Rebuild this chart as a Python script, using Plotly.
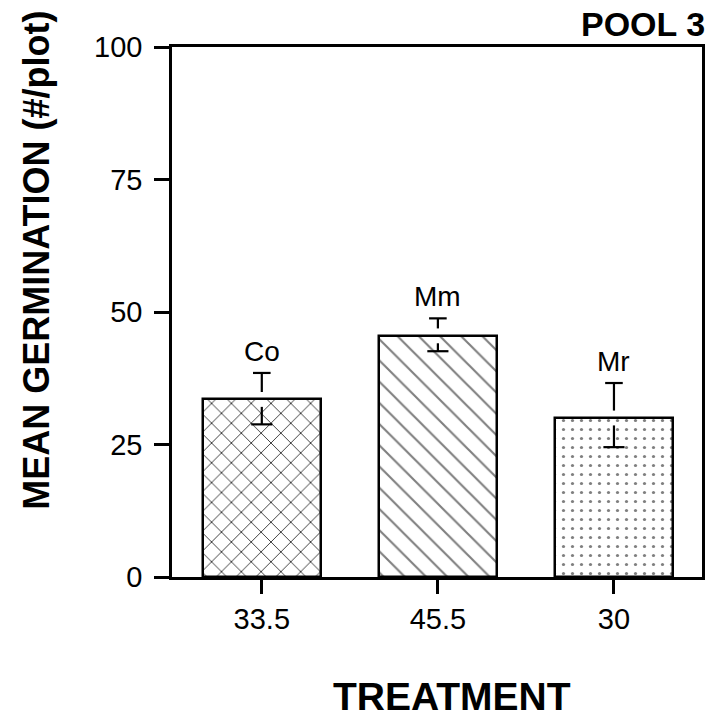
import plotly.graph_objects as go

# ---- data ----
treatments = ["Co", "Mm", "Mr"]
tick_labels = ["33.5", "45.5", "30"]
means = [33.5, 45.5, 30.0]
err_upper = [38.5, 48.8, 36.6]
err_lower = [28.8, 42.6, 24.5]
y_ticks = [0, 25, 50, 75, 100]

patterns = [
    dict(shape="x", size=14, solidity=0.12, fgcolor="black", fgopacity=0.85, bgcolor="white"),
    dict(shape="\\", size=15, solidity=0.14, fgcolor="black", bgcolor="white"),
    dict(shape=".", size=9, solidity=0.1, fgcolor="black", bgcolor="white"),
]

FONT = "Liberation Sans, Arial, Helvetica, sans-serif"
xpos = list(range(len(treatments)))

fig = go.Figure()
for i, (name, v) in enumerate(zip(treatments, means)):
    fig.add_trace(go.Bar(
        x=[xpos[i]], y=[v], width=0.667,
        marker=dict(color="white", pattern=patterns[i],
                    line=dict(color="black", width=2.5)),
        showlegend=False, hoverinfo="skip",
    ))

# error bars with small gaps at the bar top
gap = 1.4
cap = 0.05
for i, v in enumerate(means):
    hi, lo = err_upper[i], err_lower[i]
    xs = [xpos[i], xpos[i], None, xpos[i] - cap, xpos[i] + cap, None,
          xpos[i], xpos[i], None, xpos[i] - cap * 1.2, xpos[i] + cap * 1.2]
    ys = [v + gap, hi, None, hi, hi, None,
          v - gap, lo, None, lo, lo]
    fig.add_trace(go.Scatter(x=xs, y=ys, mode="lines",
                             line=dict(color="black", width=2.2),
                             showlegend=False, hoverinfo="skip"))
    fig.add_annotation(x=xpos[i], y=hi, text=treatments[i], showarrow=False,
                       yanchor="bottom", yshift=4,
                       font=dict(family=FONT, size=28, color="black"))

fig.update_layout(
    width=714, height=721,
    margin=dict(l=172, r=9, t=47, b=144),
    paper_bgcolor="white", plot_bgcolor="white",
    bargap=0,
    xaxis=dict(range=[-0.51, 2.5], tickvals=xpos, ticktext=tick_labels,
               showline=True, linecolor="black", linewidth=2.5, mirror=True,
               ticks="outside", ticklen=14, tickwidth=2.5, tickcolor="black",
               showgrid=False, zeroline=False, fixedrange=True,
               tickfont=dict(family=FONT, size=29, color="black")),
    yaxis=dict(range=[0, 100], tickvals=y_ticks,
               showline=True, linecolor="black", linewidth=2.5, mirror=True,
               ticks="outside", ticklen=15, tickwidth=2.5, tickcolor="black",
               showgrid=False, zeroline=False, fixedrange=True,
               ticklabelstandoff=6,
               tickfont=dict(family=FONT, size=29, color="black")),
)

fig.add_annotation(xref="paper", yref="paper", x=-0.257, y=0.598,
                   text="<b>MEAN GERMINATION (#/plot)</b>", textangle=-90,
                   showarrow=False, xanchor="center", yanchor="middle",
                   font=dict(family=FONT, size=36, color="black"))
fig.add_annotation(xref="paper", yref="paper", x=0.529, y=-0.225,
                   text="<b>TREATMENT</b>", showarrow=False,
                   xanchor="center", yanchor="middle",
                   font=dict(family=FONT, size=39, color="black"))
fig.add_annotation(xref="paper", yref="paper", x=1.009, y=1.043,
                   text="<b>POOL 3</b>", showarrow=False,
                   xanchor="right", yanchor="middle",
                   font=dict(family=FONT, size=34, color="black"))

fig.write_html("out.html")
